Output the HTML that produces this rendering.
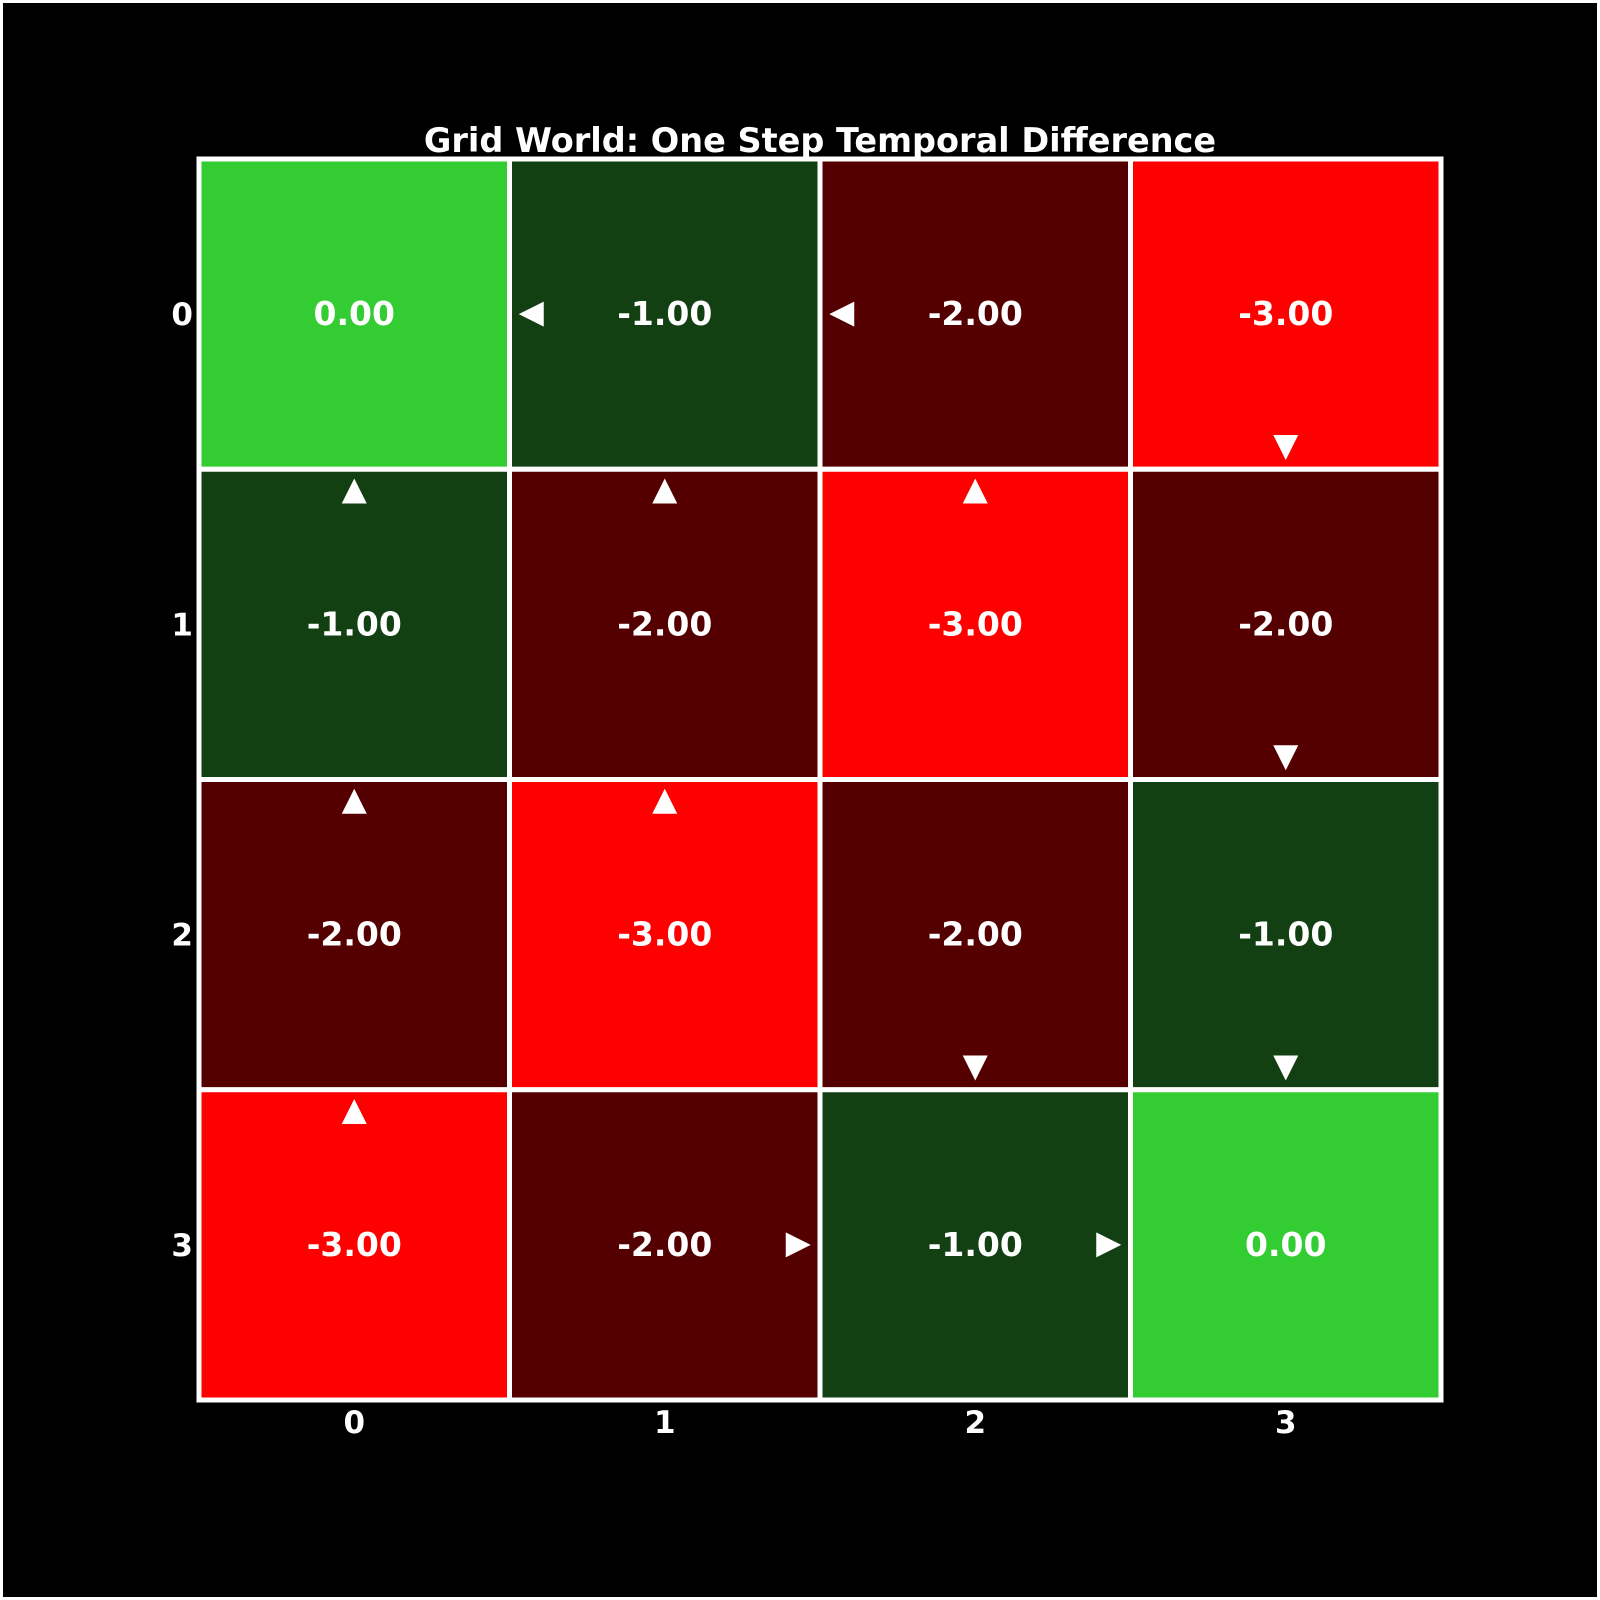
<!DOCTYPE html>
<html><head><meta charset="utf-8"><style>
html,body{margin:0;padding:0;background:#000;}
svg{display:block;}
text{font-family:"DejaVu Sans","Liberation Sans",sans-serif;font-weight:bold;fill:#fff;}
</style></head><body>
<svg id="chart" width="1600" height="1600" viewBox="0 0 1600 1600" xmlns="http://www.w3.org/2000/svg">
<rect x="1.5" y="1.5" width="1597" height="1597" fill="#000" stroke="#fff" stroke-width="3"/>
<text x="820" y="152" font-size="33.5" text-anchor="middle">Grid World: One Step Temporal Difference</text>
<g id="cells"></g><g id="labels"></g><g id="arrows"></g><g id="ticks"></g>
</svg>
<script>
const rowLabels = ["0","1","2","3"];
const colLabels = ["0","1","2","3"];
const values = [
  [0,-1,-2,-3],
  [-1,-2,-3,-2],
  [-2,-3,-2,-1],
  [-3,-2,-1,0]
];
const arrowRows = [0,0,0,1,1,1,1,2,2,2,2,3,3,3];
const arrowCols = [1,2,3,0,1,2,3,0,1,2,3,0,1,2];
const arrowDirs = ["L","L","D","U","U","U","D","U","U","D","D","U","R","R"];

const NS="http://www.w3.org/2000/svg";
const L=199,R=1441,T=159,B=1400;
const nC=colLabels.length,nR=rowLabels.length;
const cw=(R-L)/nC,ch=(B-T)/nR;
const xS=c=>L+(c+0.5)*cw;
const yS=r=>T+(r+0.5)*ch;
function color(v){ if(v>=0) return "#33cc33"; if(v>=-1) return "#134013"; if(v>=-2) return "#550000"; return "#ff0000"; }
function mk(tag,attrs,parent){const e=document.createElementNS(NS,tag);for(const k in attrs)e.setAttribute(k,attrs[k]);parent.appendChild(e);return e;}
const cells=document.getElementById('cells'),labels=document.getElementById('labels'),arrows=document.getElementById('arrows'),ticks=document.getElementById('ticks');
values.forEach((row,r)=>row.forEach((v,c)=>{
  const rc=mk('rect',{x:xS(c)-cw/2,y:yS(r)-ch/2,width:cw,height:ch,fill:color(v),stroke:"#fff","stroke-width":5},cells);
  
  
  const t=mk('text',{x:xS(c),y:yS(r)+11,"font-size":33,"text-anchor":"middle"},labels);
  t.textContent=v.toFixed(2);
  
  
}));
mk('rect',{x:L,y:T,width:R-L,height:B-T,fill:"none",stroke:"#fff","stroke-width":5},cells);
const off=0.43,s=12.5;
arrowDirs.forEach((d,i)=>{
  let cx=xS(arrowCols[i]),cy=yS(arrowRows[i]),pts;
  if(d==="U"){cy=yS(arrowRows[i]-off);pts=[[cx,cy-s],[cx-s,cy+s],[cx+s,cy+s]];}
  else if(d==="D"){cy=yS(arrowRows[i]+off);pts=[[cx,cy+s],[cx-s,cy-s],[cx+s,cy-s]];}
  else if(d==="L"){cx=xS(arrowCols[i]-off);pts=[[cx-s,cy],[cx+s,cy-s],[cx+s,cy+s]];}
  else {cx=xS(arrowCols[i]+off);pts=[[cx+s,cy],[cx-s,cy-s],[cx-s,cy+s]];}
  const p=mk('polygon',{points:pts.map(q=>q.join(',')).join(' '),fill:"#fff"},arrows);
  
  
});
colLabels.forEach((l,c)=>{
  const t=mk('text',{x:xS(c),y:B+33,"font-size":31,"text-anchor":"middle"},ticks);
  t.textContent=l;
  
  
});
rowLabels.forEach((l,r)=>{
  const t=mk('text',{x:L-6,y:yS(r)+11,"font-size":31,"text-anchor":"end"},ticks);
  t.textContent=l;
  
  
});
</script>
</body></html>
